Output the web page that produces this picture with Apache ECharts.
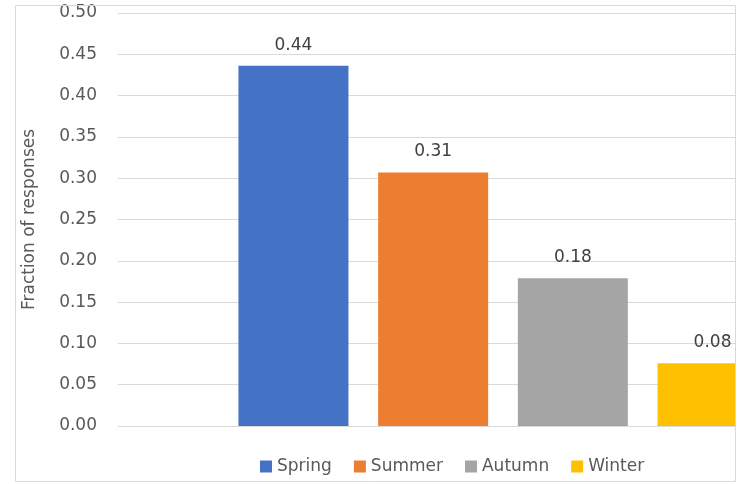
<!DOCTYPE html>
<html>
<head>
<meta charset="utf-8">
<script src="https://cdn.jsdelivr.net/npm/echarts@6/dist/echarts.min.js"></script>
<style>
  html, body { margin: 0; padding: 0; background: #fff; overflow: hidden; }
  /* the original picture is a crop: the plot runs on past the right edge */
  #chart { width: 888px; height: 484px; }
</style>
</head>
<body>
<div id="chart"></div>
<script>
// values
const seasons = ['Spring', 'Summer', 'Autumn', 'Winter'];
const fractions = [0.436, 0.307, 0.179, 0.076];
const seasonColors = ['#4472C4', '#ED7D31', '#A5A5A5', '#FFC000'];

const chart = echarts.init(document.getElementById('chart'));

const series = seasons.map((name, i) => ({
  name: name,
  type: 'bar',
  data: [fractions[i]],
  barWidth: 110,
  barGap: '27%',
  itemStyle: { color: seasonColors[i] },
  label: {
    show: true,
    position: 'top',
    distance: 12,
    color: '#404040',
    fontFamily: 'DejaVu Sans',
    fontSize: 17,
    formatter: p => p.value.toFixed(2)
  }
}));

chart.setOption({
  animation: false,
  backgroundColor: '#fff',
  grid: { left: 118, right: 0, top: 13, bottom: 58 },
  graphic: [
    {
      type: 'rect',
      shape: { x: 15.5, y: 5.5, width: 720, height: 476 },
      style: { fill: 'none', stroke: '#d9d9d9', lineWidth: 1 },
      z: 100
    },
    {
      // blank out everything right of the frame
      type: 'rect',
      shape: { x: 736, y: 0, width: 200, height: 484 },
      style: { fill: '#fff' },
      z: 99
    }
  ],
  legend: {
    data: seasons,
    bottom: 4,
    left: 255,
    itemWidth: 12,
    itemHeight: 12,
    itemGap: 22,
    icon: 'rect',
    textStyle: { color: '#595959', fontFamily: 'DejaVu Sans', fontSize: 17 }
  },
  xAxis: {
    type: 'category',
    data: [''],
    axisLine: { show: false },
    axisTick: { show: false },
    axisLabel: { show: false }
  },
  yAxis: {
    type: 'value',
    min: 0,
    max: 0.5,
    interval: 0.05,
    name: 'Fraction of responses',
    nameLocation: 'middle',
    nameGap: 80,
    nameTextStyle: { color: '#595959', fontFamily: 'DejaVu Sans', fontSize: 17 },
    axisLabel: {
      margin: 21,
      color: '#595959',
      fontFamily: 'DejaVu Sans',
      fontSize: 17,
      formatter: v => v.toFixed(2)
    },
    splitLine: { lineStyle: { color: '#d9d9d9' } }
  },
  series: series
});
</script>
</body>
</html>
